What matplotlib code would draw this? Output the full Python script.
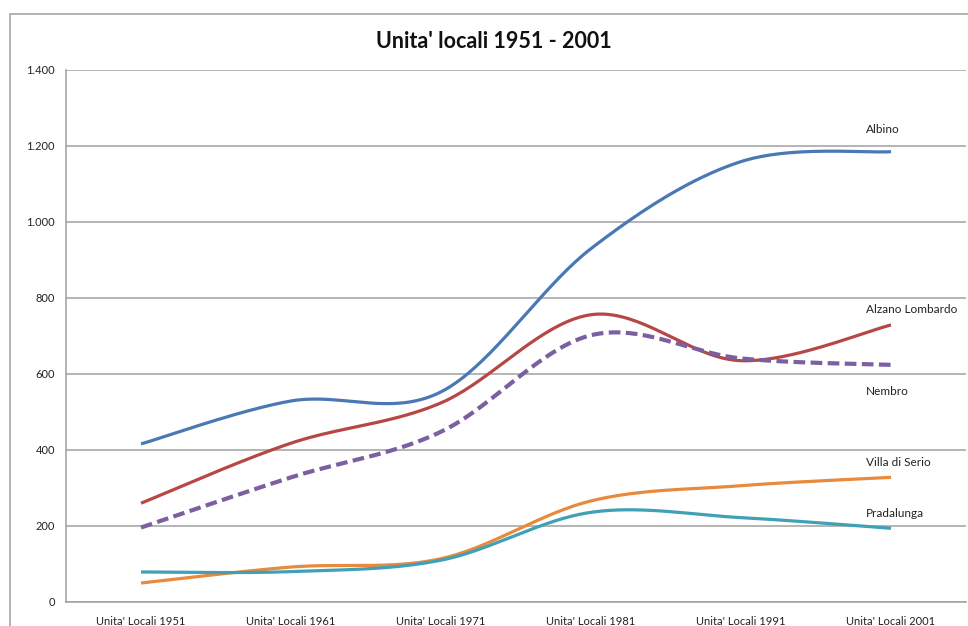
import numpy as np
import matplotlib
matplotlib.use("Agg")
import matplotlib.pyplot as plt
from matplotlib.patches import Rectangle
from matplotlib.ticker import FuncFormatter

plt.rcParams['font.family'] = ['Lato', 'DejaVu Sans']

categories = ["Unita' Locali 1951", "Unita' Locali 1961", "Unita' Locali 1971",
              "Unita' Locali 1981", "Unita' Locali 1991", "Unita' Locali 2001"]

albino = [416, 529, 553, 930, 1159, 1185]
alzano_lombardo = [260, 418, 524, 756, 635, 729]
nembro = [196, 328, 448, 702, 641, 624]
villa_di_serio = [50, 92, 114, 266, 306, 328]
pradalunga = [79, 80, 110, 236, 222, 194]

series = [
    ("Albino", albino, "#4A78B5", "-", 2.3, 22),
    ("Alzano Lombardo", alzano_lombardo, "#B64744", "-", 2.3, 15),
    ("Nembro", nembro, "#7B5FA1", "--", 3.0, -27),
    ("Villa di Serio", villa_di_serio, "#E8893C", "-", 2.3, 15),
    ("Pradalunga", pradalunga, "#3FA1B5", "-", 2.3, 15),
]


def smooth(xs, ys, n=40):
    """Smoothed line: cubic Bezier segments with Catmull-Rom control points."""
    xs = np.asarray(xs, float)
    ys = np.asarray(ys, float)
    px = np.concatenate([[xs[0]], xs, [xs[-1]]])
    py = np.concatenate([[ys[0]], ys, [ys[-1]]])
    out_x, out_y = [], []
    t = np.linspace(0, 1, n)
    for i in range(1, len(px) - 2):
        p0 = np.array([px[i], py[i]])
        p3 = np.array([px[i + 1], py[i + 1]])
        c1 = p0 + (np.array([px[i + 1], py[i + 1]]) - np.array([px[i - 1], py[i - 1]])) / 6
        c2 = p3 - (np.array([px[i + 2], py[i + 2]]) - np.array([px[i], py[i]])) / 6
        b = ((1 - t) ** 3)[:, None] * p0 + (3 * (1 - t) ** 2 * t)[:, None] * c1 \
            + (3 * (1 - t) * t ** 2)[:, None] * c2 + (t ** 3)[:, None] * p3
        out_x.extend(b[:, 0])
        out_y.extend(b[:, 1])
    return np.array(out_x), np.array(out_y)


fig = plt.figure(figsize=(9.68, 6.26), dpi=100)
W, H = 968, 626

# chart frame
fig.patches.append(Rectangle((10 / W, -0.1), 1.2, 1 - 14 / H + 0.1, transform=fig.transFigure,
                             fill=False, edgecolor="#A6A6A6", lw=1.2, zorder=0))

ax = fig.add_axes([66 / W, 1 - 602 / H, 900 / W, (602 - 70) / H])
x = np.arange(len(categories))

for name, vals, color, ls, lw, dy in series:
    sx, sy = smooth(x, vals)
    line, = ax.plot(sx, sy, color=color, lw=lw, solid_capstyle="butt")
    if ls == "--":
        line.set_linestyle((0, (2.8, 1.3)))
        line.set_dash_capstyle("butt")
    ax.annotate(name, (x[-1], vals[-1]), xytext=(-25, dy), textcoords="offset pixels",
                ha="left", va="center", fontsize=8.5, color="#222222")

ax.set_xlim(-0.5, len(categories) - 0.5)
ax.set_ylim(0, 1400)
ax.set_yticks(np.arange(0, 1401, 200))
ax.yaxis.set_major_formatter(FuncFormatter(lambda v, p: f"{int(v):,}".replace(",", ".")))
ax.set_xticks(x)
ax.set_xticklabels(categories)
ax.grid(axis="y", color="#A0A0A0", lw=1.1)
ax.set_axisbelow(True)
for s in ["top", "right"]:
    ax.spines[s].set_visible(False)
for s in ["left", "bottom"]:
    ax.spines[s].set_color("#A0A0A0")
    ax.spines[s].set_linewidth(1.1)
ax.tick_params(axis="both", length=0, labelsize=8, colors="#222222")
ax.tick_params(axis="y", pad=8)
ax.tick_params(axis="x", pad=10)

fig.text(494 / W, 1 - 42 / H, "Unita' locali 1951 - 2001", ha="center", va="center",
         fontsize=15.5, fontweight="bold", color="#111111")

fig.savefig("out.png", dpi=100)
